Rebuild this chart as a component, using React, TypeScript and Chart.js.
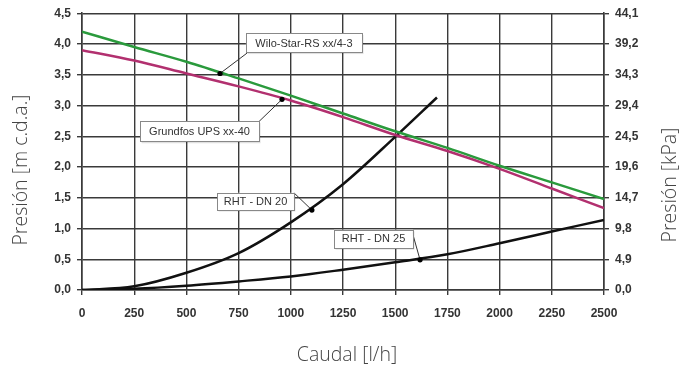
import React, { useEffect, useRef } from 'react';
import { Chart, registerables } from 'chart.js';

Chart.register(...registerables);

// ---- data ----
const flowTicks = [0, 250, 500, 750, 1000, 1250, 1500, 1750, 2000, 2250, 2500];
const pressureTicks = [0, 0.5, 1, 1.5, 2, 2.5, 3, 3.5, 4, 4.5];
const kpaTicks = [0, 4.9, 9.8, 14.7, 19.6, 24.5, 29.4, 34.3, 39.2, 44.1];

const flow = [0, 250, 500, 750, 1000, 1250, 1500, 1750, 2000, 2250, 2500];
const wiloStar = [4.2, 3.95, 3.71, 3.44, 3.16, 2.87, 2.58, 2.31, 2.02, 1.75, 1.48];
const grundfos = [3.9, 3.73, 3.52, 3.31, 3.08, 2.81, 2.52, 2.26, 1.97, 1.65, 1.33];
const rhtDn25 = [0, 0.02, 0.07, 0.14, 0.22, 0.33, 0.45, 0.58, 0.76, 0.95, 1.14];
const flowDn20 = [0, 250, 500, 750, 1000, 1250, 1500, 1700];
const rhtDn20 = [0, 0.06, 0.28, 0.6, 1.1, 1.72, 2.49, 3.13];

const seriesNames = ['Wilo-Star-RS xx/4-3', 'Grundfos UPS xx-40', 'RHT - DN 20', 'RHT - DN 25'];

// label boxes: [text, boxLeftFlow, boxTopPressure, boxRightFlow, boxBottomPressure, leaderStartFlow, leaderStartPressure, markerFlow]
const labelBoxes: [string, number, number, number, number, number, number, number][] = [
  [seriesNames[0], 785, 4.17, 1341, 3.86, 790, 3.85, 661],
  [seriesNames[1], 278, 2.74, 848, 2.41, 848, 2.74, 958],
  [seriesNames[2], 647, 1.58, 1015, 1.3, 1015, 1.58, 1101],
  [seriesNames[3], 1207, 0.98, 1585, 0.68, 1580, 0.96, 1619],
];
const markerPressures = [3.52, 3.1, 1.3, 0.49];

const axisTitles = ['Presión [m c.d.a.]', 'Presión [kPa]', 'Caudal [l/h]'];

const fmt = (v: number) => v.toFixed(1).replace('.', ',');

const pts = (xs: number[], ys: number[]) => xs.map((x, i) => ({ x, y: ys[i] }));

const annotationPlugin = {
  id: 'annots',
  afterDatasetsDraw(chart: any) {
    const { ctx, scales } = chart;
    const xs = scales.x;
    const ys = scales.y;
    ctx.save();
    labelBoxes.forEach((b, i) => {
      const [text, l, t, r, bt, lx, ly, mx] = b;
      const my = markerPressures[i];
      const x0 = xs.getPixelForValue(l);
      const y0 = ys.getPixelForValue(t);
      const x1 = xs.getPixelForValue(r);
      const y1 = ys.getPixelForValue(bt);
      // leader
      ctx.strokeStyle = '#333';
      ctx.lineWidth = 1;
      ctx.beginPath();
      ctx.moveTo(xs.getPixelForValue(lx), ys.getPixelForValue(ly));
      ctx.lineTo(xs.getPixelForValue(mx), ys.getPixelForValue(my));
      ctx.stroke();
      // marker
      ctx.fillStyle = '#000';
      ctx.beginPath();
      ctx.arc(xs.getPixelForValue(mx), ys.getPixelForValue(my), 2.6, 0, Math.PI * 2);
      ctx.fill();
      // box
      ctx.fillStyle = 'rgba(0,0,0,0.12)';
      ctx.fillRect(x0 + 1.5, y0 + 1.5, x1 - x0, y1 - y0);
      ctx.fillStyle = '#fff';
      ctx.fillRect(x0, y0, x1 - x0, y1 - y0);
      ctx.strokeStyle = '#888';
      ctx.lineWidth = 1;
      ctx.strokeRect(Math.round(x0) + 0.5, Math.round(y0) + 0.5, Math.round(x1 - x0), Math.round(y1 - y0));
      ctx.fillStyle = '#333';
      ctx.font = '11px "Liberation Sans", Arial, sans-serif';
      ctx.textAlign = 'center';
      ctx.textBaseline = 'middle';
      ctx.fillText(text, (x0 + x1) / 2, (y0 + y1) / 2 + 0.5);
    });
    ctx.restore();
  },
  afterDraw(chart: any) {
    const { ctx } = chart;
    ctx.save();
    ctx.fillStyle = '#444';
    ctx.font = '300 19.5px "Open Sans", sans-serif';
    ctx.textAlign = 'center';
    ctx.textBaseline = 'middle';
    ctx.save();
    ctx.translate(21, 170);
    ctx.rotate(-Math.PI / 2);
    ctx.fillText(axisTitles[0], 0, 0);
    ctx.restore();
    ctx.save();
    ctx.translate(670, 185);
    ctx.rotate(-Math.PI / 2);
    ctx.fillText(axisTitles[1], 0, 0);
    ctx.restore();
    ctx.fillText(axisTitles[2], 347, 355);
    ctx.restore();
  },
};

const tickFont = { family: '"Liberation Sans", Arial, sans-serif', size: 12, weight: 'bold' as const };
const gridColor = '#3a3a3a';

export default function App() {
  const ref = useRef<HTMLCanvasElement>(null);
  useEffect(() => {
    if (!ref.current) return;
    const chart = new Chart(ref.current, {
      type: 'line',
      data: {
        datasets: [
          { label: seriesNames[0], data: pts(flow, wiloStar), borderColor: '#2a9a3c', borderWidth: 2.5, pointRadius: 0, cubicInterpolationMode: 'monotone' },
          { label: seriesNames[1], data: pts(flow, grundfos), borderColor: '#b2306f', borderWidth: 2.5, pointRadius: 0, cubicInterpolationMode: 'monotone' },
          { label: seriesNames[2], data: pts(flowDn20, rhtDn20), borderColor: '#111', borderWidth: 2.5, pointRadius: 0, cubicInterpolationMode: 'monotone' },
          { label: seriesNames[3], data: pts(flow, rhtDn25), borderColor: '#111', borderWidth: 2.5, pointRadius: 0, cubicInterpolationMode: 'monotone' },
        ],
      },
      options: {
        responsive: false,
        animation: false,
        layout: { padding: { top: 13, left: 0, right: 0, bottom: 0 } },
        plugins: { legend: { display: false }, tooltip: { enabled: false } },
        scales: {
          x: {
            type: 'linear',
            min: 0,
            max: 2500,
            afterBuildTicks: (s: any) => { s.ticks = flowTicks.map((v) => ({ value: v })); },
            afterFit: (s: any) => { s.height = 80; },
            ticks: { font: tickFont, color: '#333', padding: 11, maxRotation: 0, autoSkip: false, callback: (v: any) => String(v) },
            grid: { color: gridColor, lineWidth: 1.4, tickLength: 5 },
            border: { color: gridColor, width: 1.6 },
          },
          y: {
            type: 'linear',
            position: 'left',
            min: 0,
            max: 4.5,
            afterBuildTicks: (s: any) => { s.ticks = pressureTicks.map((v) => ({ value: v })); },
            afterFit: (s: any) => { s.width = 82; },
            ticks: { font: tickFont, color: '#333', padding: 6, autoSkip: false, callback: (v: any) => fmt(Number(v)) },
            grid: { color: gridColor, lineWidth: 1.4, tickLength: 5 },
            border: { color: gridColor, width: 1.6 },
          },
          y2: {
            type: 'linear',
            position: 'right',
            min: 0,
            max: 44.1,
            afterBuildTicks: (s: any) => { s.ticks = kpaTicks.map((v) => ({ value: v })); },
            afterFit: (s: any) => { s.width = 90; },
            ticks: { font: tickFont, color: '#333', padding: 6, autoSkip: false, callback: (v: any) => fmt(Number(v)) },
            grid: { color: gridColor, lineWidth: 1.4, tickLength: 5, drawOnChartArea: false },
            border: { color: gridColor, width: 1.6 },
          },
        },
      },
      plugins: [annotationPlugin],
    } as any);
    return () => chart.destroy();
  }, []);
  return (
    <div style={{ position: 'absolute', left: 0, top: 0, width: 694, height: 370, background: '#fff' }}>
      <canvas ref={ref} width={694} height={370} style={{ width: 694, height: 370 }} />
    </div>
  );
}
